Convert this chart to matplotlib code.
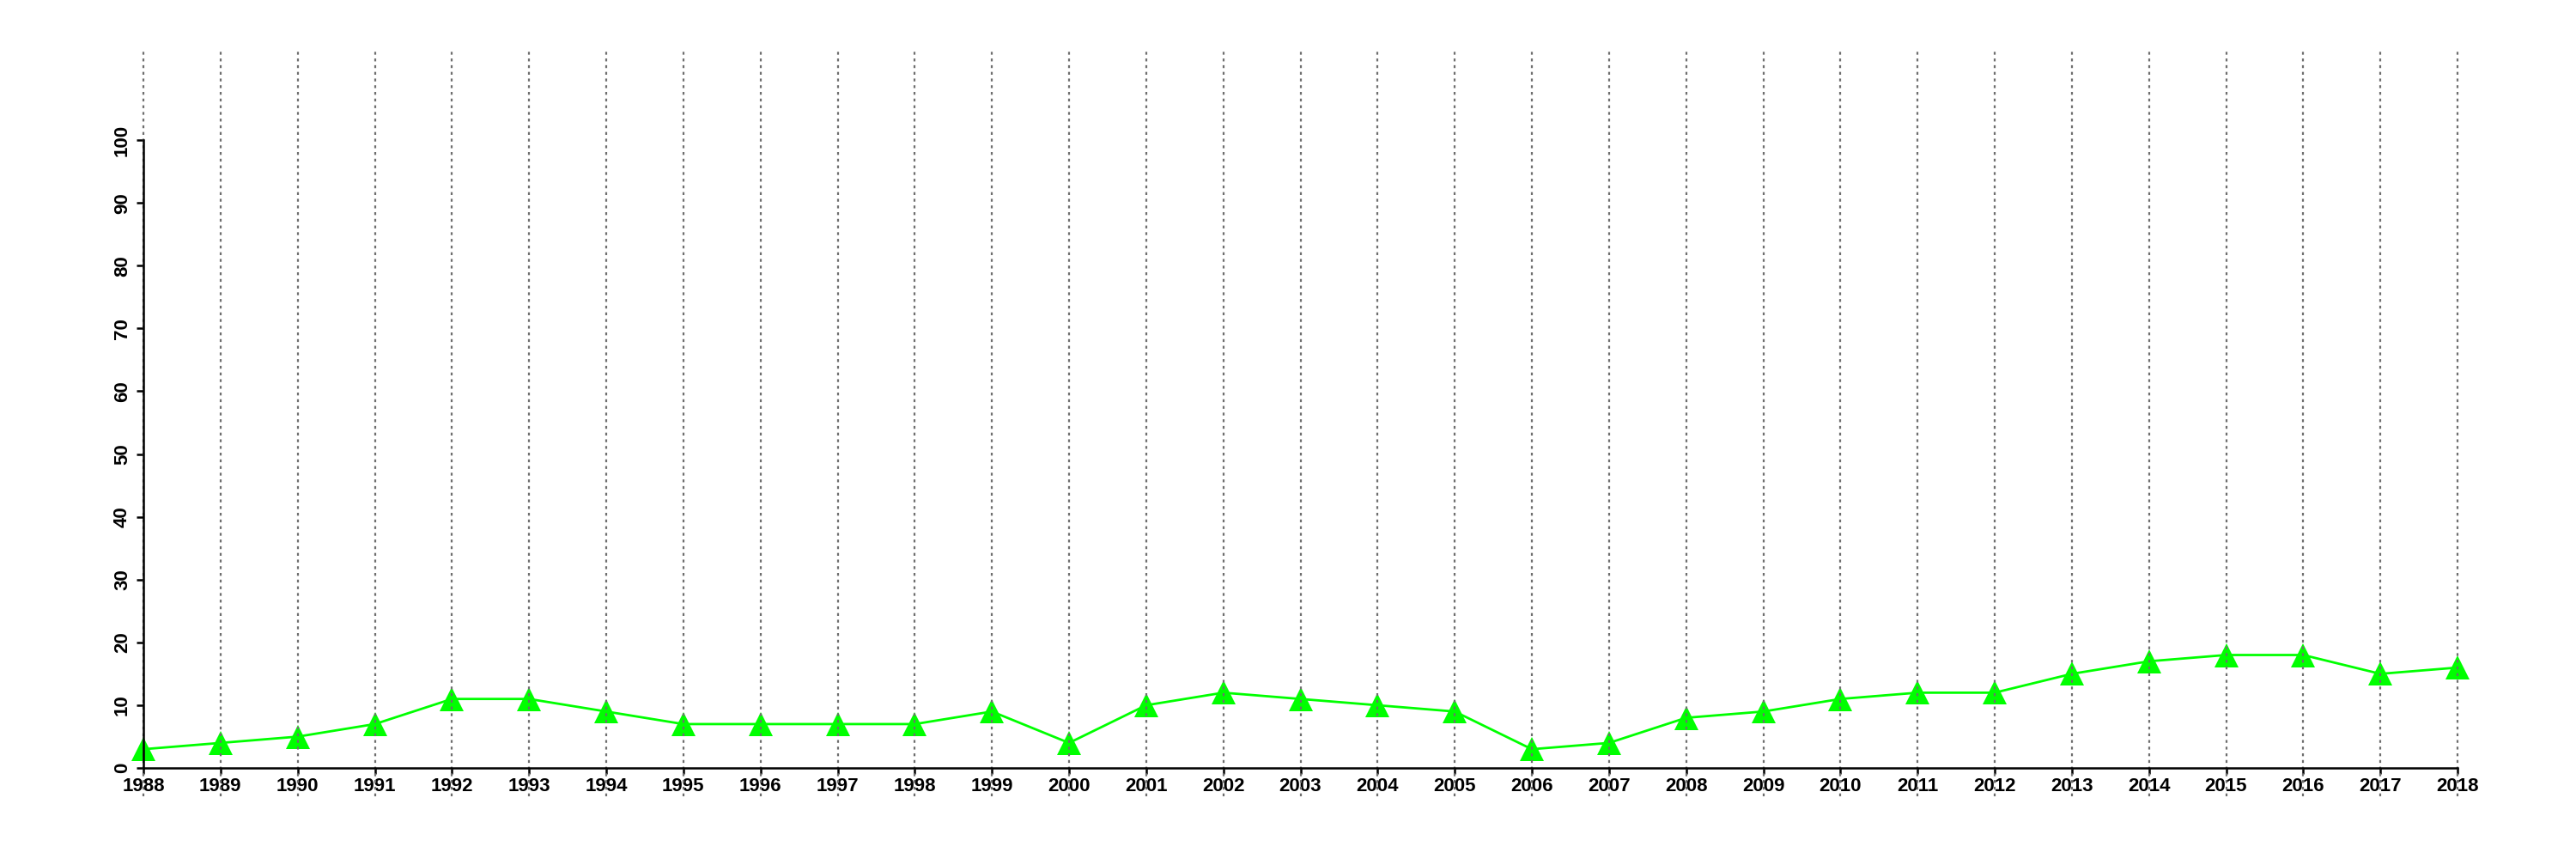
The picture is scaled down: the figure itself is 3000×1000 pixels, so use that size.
import matplotlib
matplotlib.use("Agg")
import matplotlib.pyplot as plt

years = list(range(1988, 2019))
values = [3, 4, 5, 7, 11, 11, 9, 7, 7, 7, 7, 9, 4, 10, 12, 11, 10, 9, 3, 4,
          8, 9, 11, 12, 12, 15, 17, 18, 18, 15, 16]
y_ticks = [0, 10, 20, 30, 40, 50, 60, 70, 80, 90, 100]

plt.rcParams['font.family'] = ['Liberation Sans', 'DejaVu Sans']

fig = plt.figure(figsize=(30, 10), dpi=100)
ax = fig.add_axes([59.2 / 3000, 0.073, 2910.6 / 3000, 0.867])
ax.set_xlim(1988 - 1.2, 2018 + 1.2)
ax.set_ylim(-4.5, 114.1)

ax.plot(years, values, color='#00ff00', linewidth=2.0, marker='^',
        markersize=20, markeredgewidth=0, zorder=2, clip_on=False)

for yr in years:
    ax.axvline(yr, color='#6e6e6e', linestyle=(0, (1.5, 2.0)), linewidth=1.6, zorder=3)

for s in ['top', 'right']:
    ax.spines[s].set_visible(False)
ax.spines['left'].set_position(('data', 1988))
ax.spines['left'].set_bounds(0, 100)
ax.spines['bottom'].set_position(('data', 0))
ax.spines['bottom'].set_bounds(1988, 2018)
for s in ['left', 'bottom']:
    ax.spines[s].set_linewidth(1.8)
    ax.spines[s].set_zorder(4)

ax.set_xticks(years)
ax.set_xticklabels([str(y) for y in years], fontsize=16, fontweight='bold')
ax.set_yticks(y_ticks)
ax.set_yticklabels([str(v) for v in y_ticks], fontsize=16, fontweight='bold',
                   rotation=90, va='center')
ax.tick_params(axis='x', length=5, width=1.8, pad=2.5)
ax.tick_params(axis='y', length=6, width=1.8, pad=4)
ax.patch.set_alpha(0)

fig.savefig('out.png', dpi=100)
